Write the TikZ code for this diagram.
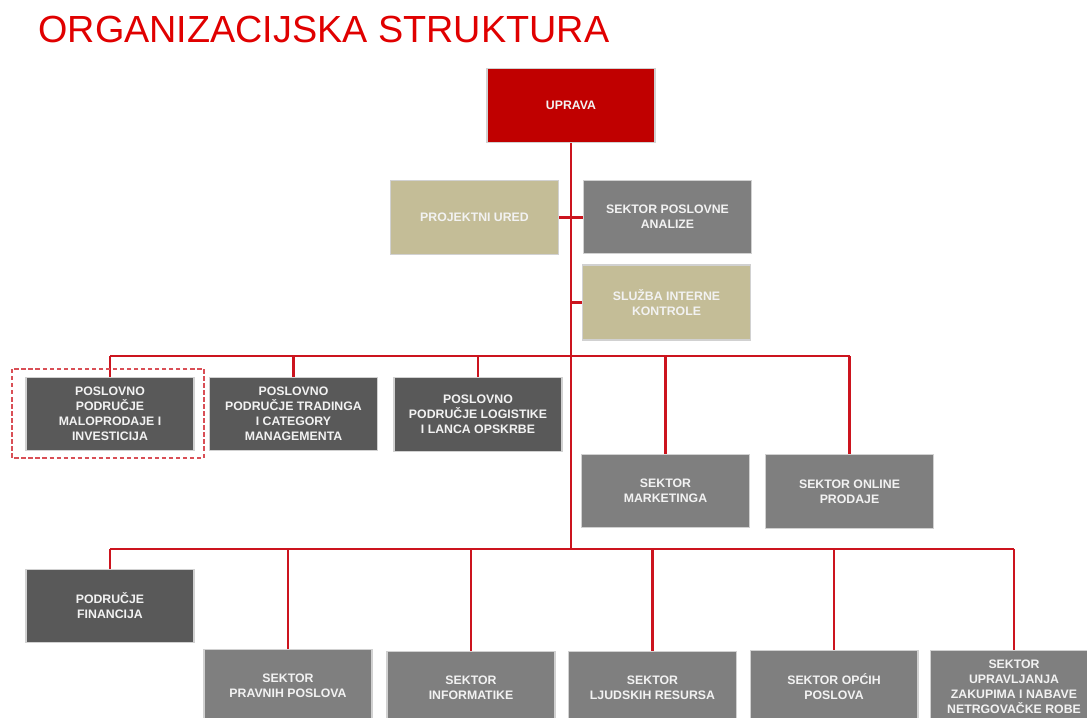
\documentclass[tikz,border=0pt]{standalone}
\usepackage{fontspec}
\setmainfont{Liberation Sans}
\definecolor{naslov}{RGB}{224,0,0}
\definecolor{crvena}{RGB}{192,0,0}
\definecolor{linija}{RGB}{204,20,30}
\definecolor{bez}{RGB}{196,189,151}
\definecolor{siva}{RGB}{127,127,127}
\definecolor{tamna}{RGB}{89,89,89}
\begin{document}
\begin{tikzpicture}[x=0.02cm, y=-0.02cm,
  kutija/.style={draw=white!82!black, line width=0.6pt, text=white!95!black,
    font=\bfseries\fontsize{7}{8.5}\selectfont, align=center,
    minimum width=3.36cm, minimum height=1.47cm, inner sep=1pt},
  veza/.style={draw=linija, line width=1.2pt}]
  \clip (0,0) rectangle (1087,717);
  % naslov
  \node[anchor=base west, inner sep=0, text=naslov, font=\fontsize{21.5}{24}\selectfont]
    (naslov) at (38,42) {ORGANIZACIJSKA STRUKTURA};
  % uprava i stozerne jedinice
  \node[kutija, fill=crvena] (uprava) at (571,105.5) {UPRAVA};
  \node[kutija, fill=bez] (projured) at (474.5,217.5) {PROJEKTNI URED};
  \node[kutija, fill=siva] (analize) at (667.5,217) {SEKTOR POSLOVNE\\ANALIZE};
  \node[kutija, fill=bez, minimum height=1.5cm] (kontrola) at (666.5,302.5) {SLUŽBA INTERNE\\KONTROLE};
  % prvi red
  \node[kutija, fill=tamna] (malo) at (110,414) {POSLOVNO\\PODRUČJE\\MALOPRODAJE I\\INVESTICIJA};
  \node[kutija, fill=tamna] (trading) at (293.5,414) {POSLOVNO\\PODRUČJE TRADINGA\\I CATEGORY\\MANAGEMENTA};
  \node[kutija, fill=tamna] (logist) at (478,414.5) {POSLOVNO\\PODRUČJE LOGISTIKE\\I LANCA OPSKRBE};
  \node[kutija, fill=siva] (marketing) at (665.5,491) {SEKTOR\\MARKETINGA};
  \node[kutija, fill=siva] (online) at (849.5,491.5) {SEKTOR ONLINE\\PRODAJE};
  % drugi red
  \node[kutija, fill=tamna] (financ) at (110,606) {PODRUČJE\\FINANCIJA};
  \node[kutija, fill=siva] (pravni) at (288,686) {SEKTOR\\PRAVNIH POSLOVA};
  \node[kutija, fill=siva] (inform) at (471,688) {SEKTOR\\INFORMATIKE};
  \node[kutija, fill=siva] (ljudski) at (652.5,688) {SEKTOR\\LJUDSKIH RESURSA};
  \node[kutija, fill=siva] (opci) at (834,687) {SEKTOR OPĆIH\\POSLOVA};
  \node[kutija, fill=siva] (zakup) at (1014,687) {SEKTOR\\UPRAVLJANJA\\ZAKUPIMA I NABAVE\\NETRGOVAČKE ROBE};
  % veze
  \coordinate (sab1) at (571,356);
  \coordinate (sab2) at (571,549);
  \draw[veza] (uprava.south) -- (sab2);
  \draw[veza] (projured.east) -- (projured.east -| analize.west);
  \draw[veza] (kontrola.west) -- (kontrola.west -| uprava.south);
  \draw[veza] (malo.north |- sab1) -- (online.north |- sab1);
  \foreach \n in {malo,trading,logist,marketing,online} { \draw[veza] (\n.north |- sab1) -- (\n.north); }
  \draw[veza] (financ.north |- sab2) -- (zakup.north |- sab2);
  \foreach \n in {financ,pravni,inform,ljudski,opci,zakup} { \draw[veza] (\n.north |- sab2) -- (\n.north); }
  % oznaka oko maloprodaje
  \draw[linija!75, line width=0.8pt, dash pattern=on 2.5pt off 1.5pt] (12,369) rectangle (204,458);
\end{tikzpicture}
\end{document}
